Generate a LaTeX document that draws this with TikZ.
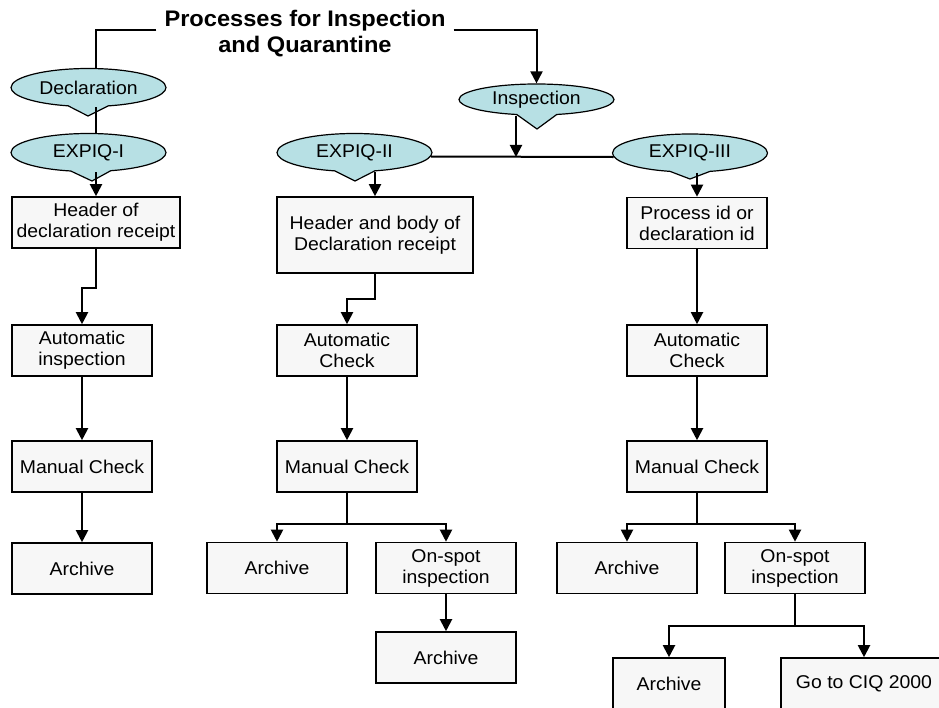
\documentclass[tikz,border=0pt]{standalone}
\usepackage{fontspec}
\setmainfont{Liberation Sans}[FakeStretch=1.05]
\usepackage{xcolor}
\usepackage{tikz}
\usetikzlibrary{shapes,shapes.callouts}
\usetikzlibrary{calc,arrows.meta,positioning}
\definecolor{calloutblue}{RGB}{183,224,228}
\definecolor{boxgray}{RGB}{247,247,247}
\tikzset{
  titletext/.style = {align=center, inner xsep=8pt, font=\fontsize{22.5}{26}\selectfont\bfseries},
  bubble/.style = {ellipse callout, draw, fill=calloutblue, line width=1.2pt, minimum width=155pt, minimum height=38pt, inner sep=0pt, callout pointer arc=30, font=\fontsize{18.5}{21}\selectfont},
  procbox/.style = {rectangle, draw, fill=boxgray, line width=1.6pt, minimum width=140pt, minimum height=51pt, inner sep=2pt, align=center, font=\fontsize{18.5}{21}\selectfont},
  flow/.style = {-{Triangle[length=12pt,width=12pt]}, line width=2pt},
  link/.style = {line width=2pt}
}
\begin{document}
\begin{tikzpicture}[x=1pt,y=-1pt]
    \clip (0,0) rectangle (939,708);
    \node[titletext] (title) at (305,34) {Processes for Inspection\\and Quarantine};
    % callouts
    \node[bubble, callout absolute pointer={(88,116)}] (decl) at (88.5,87.5) {Declaration};
    \node[bubble, callout absolute pointer={(92,181)}] (x1) at (88.5,152.5) {EXPIQ-I};
    \node[bubble, callout absolute pointer={(355,181)}] (x2) at (354.5,152.5) {EXPIQ-II};
    \node[bubble, minimum height=31pt, callout absolute pointer={(537,129)}] (insp) at (536.5,99.5) {Inspection};
    \node[bubble, callout absolute pointer={(690,179)}] (x3) at (690,153) {EXPIQ-III};
    \coordinate (jn) at (516,157);
    % first column
    \node[procbox, minimum width=168pt] (hb1) at (96,222.5) {Header of\\declaration receipt};
    \node[procbox] (ai1) at (82,350.5) {Automatic\\inspection};
    \node[procbox] (mc1) at (82,466.5) {Manual Check};
    \node[procbox] (ar1) at (82,568.5) {Archive};
    % second column
    \node[procbox, minimum width=196pt, minimum height=76pt] (hb2) at (375,235) {Header and body of\\Declaration receipt};
    \node[procbox] (ac2) at (347,350.5) {Automatic\\Check};
    \node[procbox] (mc2) at (347,466.5) {Manual Check};
    \node[procbox] (ar2) at (277,568) {Archive};
    \node[procbox] (os2) at (446,568) {On-spot\\inspection};
    \node[procbox] (ar2b) at (446,657.5) {Archive};
    % third column
    \node[procbox] (pid) at (697,223) {Process id or\\declaration id};
    \node[procbox] (ac3) at (697,350.5) {Automatic\\Check};
    \node[procbox] (mc3) at (697,466.5) {Manual Check};
    \node[procbox] (ar3) at (627,568) {Archive};
    \node[procbox] (os3) at (795,568) {On-spot\\inspection};
    \node[procbox, minimum width=112pt] (ar3b) at (669,683.5) {Archive};
    \node[procbox, minimum width=166pt] (ciq) at (864,683.5) {Go to CIQ 2000};
    % connectors
    \draw[link] ([yshift=4pt]title.west) -| (hb1.north |- decl.north);
    \draw[flow] ([yshift=4pt]title.east) -| (insp.north);
    \draw[link] (hb1.north |- decl.south) -- (hb1.north |- x1.north);
    \draw[flow] (hb1.north |- x1.south) -- (hb1.north);
    \draw[link] (x2.-3.3) -- (x3.183);
    \draw[flow] (insp.south -| jn) -- (jn);
    \draw[flow] (hb2.north |- x2.south) -- (hb2.north);
    \draw[flow] (pid.north |- x3.south) -- (pid.north);
    \draw[flow] (hb1.south) -- ++(0,39) -| (ai1.north);
    \draw[flow] (ai1) -- (mc1);
    \draw[flow] (mc1) -- (ar1);
    \draw[flow] (hb2.south) -- ++(0,25) -| (ac2.north);
    \draw[flow] (ac2) -- (mc2);
    \draw[flow] (mc2.south) -- ++(0,31) -| (ar2.north);
    \draw[flow] (mc2.south) -- ++(0,31) -| (os2.north);
    \draw[flow] (os2) -- (ar2b);
    \draw[flow] (pid) -- (ac3);
    \draw[flow] (ac3) -- (mc3);
    \draw[flow] (mc3.south) -- ++(0,31) -| (ar3.north);
    \draw[flow] (mc3.south) -- ++(0,31) -| (os3.north);
    \draw[flow] (os3.south) -- ++(0,32) -| (ar3b.north);
    \draw[flow] (os3.south) -- ++(0,32) -| (ciq.north);
\end{tikzpicture}
\end{document}
